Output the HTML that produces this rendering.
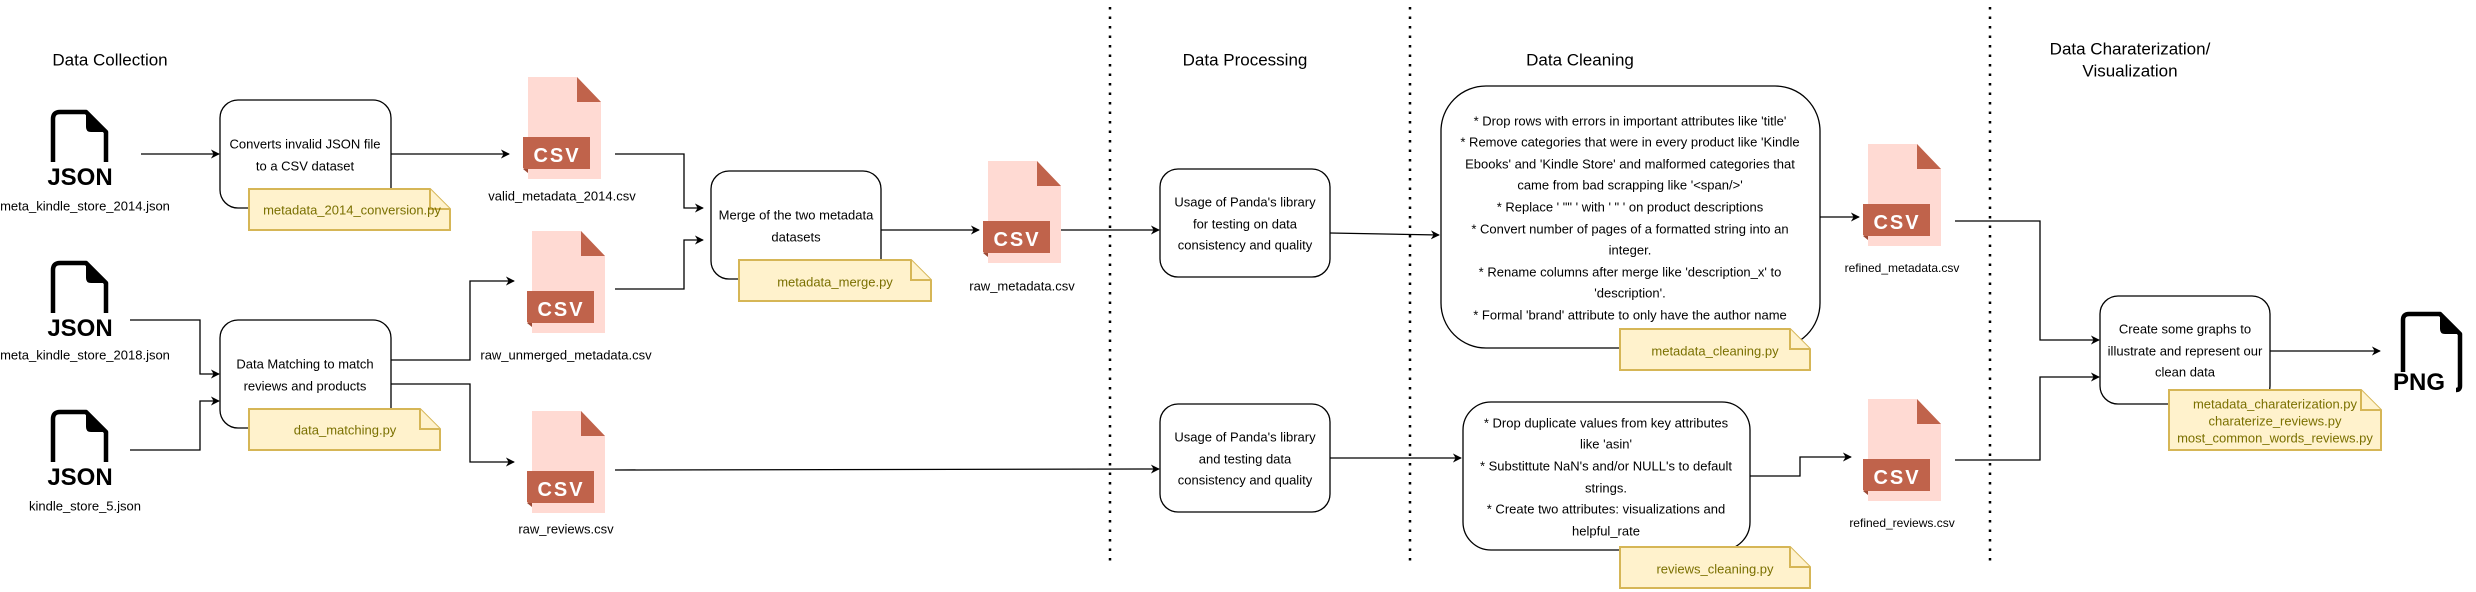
<!DOCTYPE html>
<html><head><meta charset="utf-8"><style>
html,body{margin:0;padding:0;background:#fff;}
svg{display:block;}
text{font-family:"Liberation Sans",Arial,sans-serif;}
.t{font-size:13px;fill:#000;text-anchor:middle;dominant-baseline:central;}
.h{font-size:17px;fill:#000;text-anchor:middle;dominant-baseline:central;}
.n{font-size:13px;fill:#7a7000;text-anchor:middle;dominant-baseline:central;}
.box{fill:#fff;stroke:#000;stroke-width:1.3;}
.note{fill:#fff2cc;stroke:#d6b656;stroke-width:2;}
.ln{fill:none;stroke:#000;stroke-width:1.3;}
.dot{stroke:#000;stroke-width:2.5;stroke-dasharray:2.5 7;}
.ic{fill:none;stroke:#000;stroke-width:4.5;stroke-linejoin:round;}
.big{font-size:24px;font-weight:bold;fill:#000;text-anchor:middle;}
.csvt{font-size:20px;font-weight:bold;fill:#fff;text-anchor:middle;letter-spacing:2px;}
</style></head><body>
<svg width="2476" height="592" viewBox="0 0 2476 592" xmlns="http://www.w3.org/2000/svg">
<defs>
<marker id="a" viewBox="0 0 10 10" refX="9" refY="5" markerWidth="9" markerHeight="9" orient="auto" markerUnits="userSpaceOnUse">
<path d="M0,0 L10,5 L0,10 L3,5 z" fill="#000"/></marker>
<g id="csv">
<path d="M0,0 H49 L73,25 V102 H0 Z" fill="#ffdad3"/>
<path d="M49,0 V25 H73 Z" fill="#c0634b"/>
<path d="M-5,60 H62 V92 H0 V95 L-5,91 Z" fill="#c0634b"/>
<path d="M-5,92 L0,92 L0,96 Z" fill="#9c4a36"/>
</g>
<g id="json">
<path class="ic" d="M8,53 V10 Q8,3 15,3 H41 L61,23 V53"/>
<path d="M41,3 V18 Q41,23 46,23 H61 Z" fill="#000"/>
</g>
</defs>

<!-- dotted separators -->
<line class="dot" x1="1110" y1="7" x2="1110" y2="562"/>
<line class="dot" x1="1410" y1="7" x2="1410" y2="562"/>
<line class="dot" x1="1990" y1="7" x2="1990" y2="562"/>

<!-- headers -->
<text class="h" x="110" y="60">Data Collection</text>
<text class="h" x="1245" y="60">Data Processing</text>
<text class="h" x="1580" y="60">Data Cleaning</text>
<text class="h" x="2130" y="49">Data Charaterization/</text>
<text class="h" x="2130" y="71">Visualization</text>

<!-- JSON icons -->
<use href="#json" x="45" y="109"/>
<text class="big" x="80" y="185">JSON</text>
<text class="t" x="85" y="206">meta_kindle_store_2014.json</text>
<use href="#json" x="45" y="260"/>
<text class="big" x="80" y="336">JSON</text>
<text class="t" x="85" y="355">meta_kindle_store_2018.json</text>
<use href="#json" x="45" y="409"/>
<text class="big" x="80" y="485">JSON</text>
<text class="t" x="85" y="506">kindle_store_5.json</text>

<!-- Box 1 -->
<rect class="box" x="220" y="100" width="171" height="108" rx="18"/>
<text class="t" x="305" y="144">Converts invalid JSON file</text>
<text class="t" x="305" y="166">to a CSV dataset</text>
<path class="note" d="M249,189 H430 L450,209 V230 H249 Z"/>
<path class="note" d="M430,189 V209 H450"/>
<text class="n" x="352" y="210">metadata_2014_conversion.py</text>

<!-- Box 2 -->
<rect class="box" x="220" y="320" width="171" height="108" rx="18"/>
<text class="t" x="305" y="364">Data Matching to match</text>
<text class="t" x="305" y="386">reviews and products</text>
<path class="note" d="M249,409 H420 L440,429 V450 H249 Z"/>
<path class="note" d="M420,409 V429 H440"/>
<text class="n" x="345" y="430">data_matching.py</text>

<!-- connectors left -->
<line class="ln" x1="141" y1="154" x2="219" y2="154" marker-end="url(#a)"/>
<line class="ln" x1="391" y1="154" x2="509" y2="154" marker-end="url(#a)"/>
<path class="ln" d="M130,320 H200 V374 H219" marker-end="url(#a)"/>
<path class="ln" d="M130,450 H200 V401 H219" marker-end="url(#a)"/>
<path class="ln" d="M391,360 H470 V281 H514" marker-end="url(#a)"/>
<path class="ln" d="M391,384 H470 V462 H514" marker-end="url(#a)"/>

<!-- CSVs -->
<use href="#csv" x="528" y="77"/>
<text class="csvt" x="557" y="162">CSV</text>
<text class="t" x="562" y="196">valid_metadata_2014.csv</text>
<use href="#csv" x="532" y="231"/>
<text class="csvt" x="561" y="316">CSV</text>
<text class="t" x="566" y="355">raw_unmerged_metadata.csv</text>
<use href="#csv" x="532" y="411"/>
<text class="csvt" x="561" y="496">CSV</text>
<text class="t" x="566" y="529">raw_reviews.csv</text>

<path class="ln" d="M615,154 H684 V208 H703" marker-end="url(#a)"/>
<path class="ln" d="M615,289 H684 V240 H703" marker-end="url(#a)"/>
<line class="ln" x1="615" y1="470" x2="1159" y2="469" marker-end="url(#a)"/>

<!-- Merge box -->
<rect class="box" x="711" y="171" width="170" height="108" rx="18"/>
<text class="t" x="796" y="215">Merge of the two metadata</text>
<text class="t" x="796" y="237">datasets</text>
<path class="note" d="M739,260 H911 L931,280 V301 H739 Z"/>
<path class="note" d="M911,260 V280 H931"/>
<text class="n" x="835" y="282">metadata_merge.py</text>
<line class="ln" x1="881" y1="230" x2="979" y2="230" marker-end="url(#a)"/>

<use href="#csv" x="988" y="161"/>
<text class="csvt" x="1017" y="246">CSV</text>
<text class="t" x="1022" y="286">raw_metadata.csv</text>
<line class="ln" x1="1061" y1="230" x2="1159" y2="230" marker-end="url(#a)"/>

<!-- Usage boxes -->
<rect class="box" x="1160" y="169" width="170" height="108" rx="18"/>
<text class="t" x="1245" y="202">Usage of Panda's library</text>
<text class="t" x="1245" y="224">for testing on data</text>
<text class="t" x="1245" y="245">consistency and quality</text>
<line class="ln" x1="1330" y1="233" x2="1439" y2="235" marker-end="url(#a)"/>

<rect class="box" x="1160" y="404" width="170" height="108" rx="18"/>
<text class="t" x="1245" y="437">Usage of Panda's library</text>
<text class="t" x="1245" y="459">and testing data</text>
<text class="t" x="1245" y="480">consistency and quality</text>
<line class="ln" x1="1330" y1="458" x2="1461" y2="458" marker-end="url(#a)"/>

<!-- Cleaning box 1 -->
<rect class="box" x="1441" y="86" width="379" height="262" rx="45"/>
<text class="t" x="1630" y="121">* Drop rows with errors in important attributes like 'title'</text>
<text class="t" x="1630" y="142">* Remove categories that were in every product like 'Kindle</text>
<text class="t" x="1630" y="164">Ebooks' and 'Kindle Store' and malformed categories that</text>
<text class="t" x="1630" y="185">came from bad scrapping like '&lt;span/&gt;'</text>
<text class="t" x="1630" y="207">* Replace ' "" ' with ' " ' on product descriptions</text>
<text class="t" x="1630" y="229">* Convert number of pages of a formatted string into an</text>
<text class="t" x="1630" y="250">integer.</text>
<text class="t" x="1630" y="272">* Rename columns after merge like 'description_x' to</text>
<text class="t" x="1630" y="293">'description'.</text>
<text class="t" x="1630" y="315">* Formal 'brand' attribute to only have the author name</text>
<path class="note" d="M1620,329 H1790 L1810,349 V370 H1620 Z"/>
<path class="note" d="M1790,329 V349 H1810"/>
<text class="n" x="1715" y="351">metadata_cleaning.py</text>
<line class="ln" x1="1820" y1="217" x2="1859" y2="217" marker-end="url(#a)"/>

<!-- Cleaning box 2 -->
<rect class="box" x="1463" y="402" width="287" height="148" rx="28"/>
<text class="t" x="1606" y="423">* Drop duplicate values from key attributes</text>
<text class="t" x="1606" y="444">like 'asin'</text>
<text class="t" x="1606" y="466">* Substittute NaN's and/or NULL's to default</text>
<text class="t" x="1606" y="488">strings.</text>
<text class="t" x="1606" y="509">* Create two attributes: visualizations and</text>
<text class="t" x="1606" y="531">helpful_rate</text>
<path class="note" d="M1620,547 H1790 L1810,567 V588 H1620 Z"/>
<path class="note" d="M1790,547 V567 H1810"/>
<text class="n" x="1715" y="569">reviews_cleaning.py</text>
<path class="ln" d="M1750,476 H1800 V457 H1851" marker-end="url(#a)"/>

<!-- refined CSVs -->
<use href="#csv" x="1868" y="144"/>
<text class="csvt" x="1897" y="229">CSV</text>
<text class="t" x="1902" y="268" style="font-size:12px">refined_metadata.csv</text>
<use href="#csv" x="1868" y="399"/>
<text class="csvt" x="1897" y="484">CSV</text>
<text class="t" x="1902" y="523" style="font-size:12px">refined_reviews.csv</text>

<path class="ln" d="M1955,221 H2040 V340 H2099" marker-end="url(#a)"/>
<path class="ln" d="M1955,460 H2040 V377 H2099" marker-end="url(#a)"/>

<!-- Create box -->
<rect class="box" x="2100" y="296" width="170" height="108" rx="18"/>
<text class="t" x="2185" y="329">Create some graphs to</text>
<text class="t" x="2185" y="351">illustrate and represent our</text>
<text class="t" x="2185" y="372">clean data</text>
<path class="note" d="M2169,390 H2361 L2381,410 V450 H2169 Z"/>
<path class="note" d="M2361,390 V410 H2381"/>
<text class="n" x="2275" y="404">metadata_charaterization.py</text>
<text class="n" x="2275" y="421">charaterize_reviews.py</text>
<text class="n" x="2275" y="438">most_common_words_reviews.py</text>
<line class="ln" x1="2270" y1="351" x2="2380" y2="351" marker-end="url(#a)"/>

<!-- PNG icon -->
<path class="ic" d="M2403,372 V320 Q2403,314 2409,314 H2440 L2460,334 V386 Q2460,390 2456,390"/>
<path d="M2440,314 V329 Q2440,334 2445,334 H2460 Z" fill="#000"/>
<text class="big" x="2419" y="390">PNG</text>
</svg>
</body></html>
